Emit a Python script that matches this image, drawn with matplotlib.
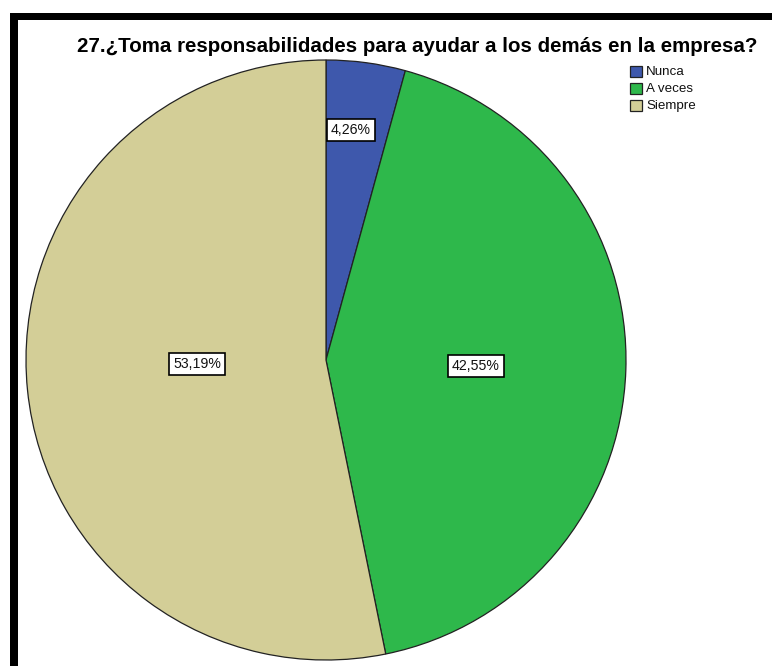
import matplotlib
matplotlib.use("Agg")
import matplotlib.pyplot as plt
from matplotlib.patches import Rectangle
import numpy as np

plt.rcParams['font.family'] = ['Liberation Sans', 'DejaVu Sans']

title = "27.¿Toma responsabilidades para ayudar a los demás en la empresa?"
categories = ["Nunca", "A veces", "Siempre"]
percentages = [4.26, 42.55, 53.19]
colors = ["#3e58ac", "#2eb84b", "#d3ce97"]
# label placement inside each slice: fraction of radius, angle shift (deg)
label_radius = [0.77, 0.50, 0.43]
label_shift = [1.5, -0.4, -3.9]

W, H = 772, 666
fig = plt.figure(figsize=(W / 100, H / 100), dpi=100)
ax = fig.add_axes([0, 0, 1, 1])

cx, cy, r = 326, H - 360, 300
wedges, _ = ax.pie(percentages, colors=colors, startangle=90, counterclock=False,
                   center=(cx, cy), radius=r,
                   wedgeprops=dict(edgecolor="#222222", linewidth=0.9))

ax.set_xlim(0, W)
ax.set_ylim(0, H)
ax.set_aspect('equal')
ax.axis('off')

# percentage labels inside each slice
for w, p, lr, sh in zip(wedges, percentages, label_radius, label_shift):
    ang = np.deg2rad((w.theta1 + w.theta2) / 2 + sh)
    x = cx + lr * r * np.cos(ang)
    y = cy + lr * r * np.sin(ang)
    ax.text(x, y, f"{p:.2f}".replace(".", ",") + "%", ha="center", va="center",
            fontsize=10.2, color="#111111",
            bbox=dict(boxstyle="square,pad=0.28", fc="white", ec="black", lw=1.2))

# title
ax.text(417.5, H - 46.5, title, ha="center", va="center", fontsize=14.8,
        fontweight="bold", color="black")

# legend
leg_y = [71, 88.5, 105.5]
for cat, col, ly in zip(categories, colors, leg_y):
    ax.add_patch(Rectangle((629.5, H - ly - 5.5), 12, 11, facecolor=col,
                           edgecolor="#222222", linewidth=0.9))
    ax.text(646, H - ly - 1, cat, ha="left", va="center", fontsize=9.6, color="#111111")

# black frame on left and top
ax.add_patch(Rectangle((9.5, 0), 8, H - 12.5, facecolor="black", edgecolor="none"))
ax.add_patch(Rectangle((9.5, H - 20), W, 7.5, facecolor="black", edgecolor="none"))

fig.savefig("out.png", dpi=100, facecolor="white")
